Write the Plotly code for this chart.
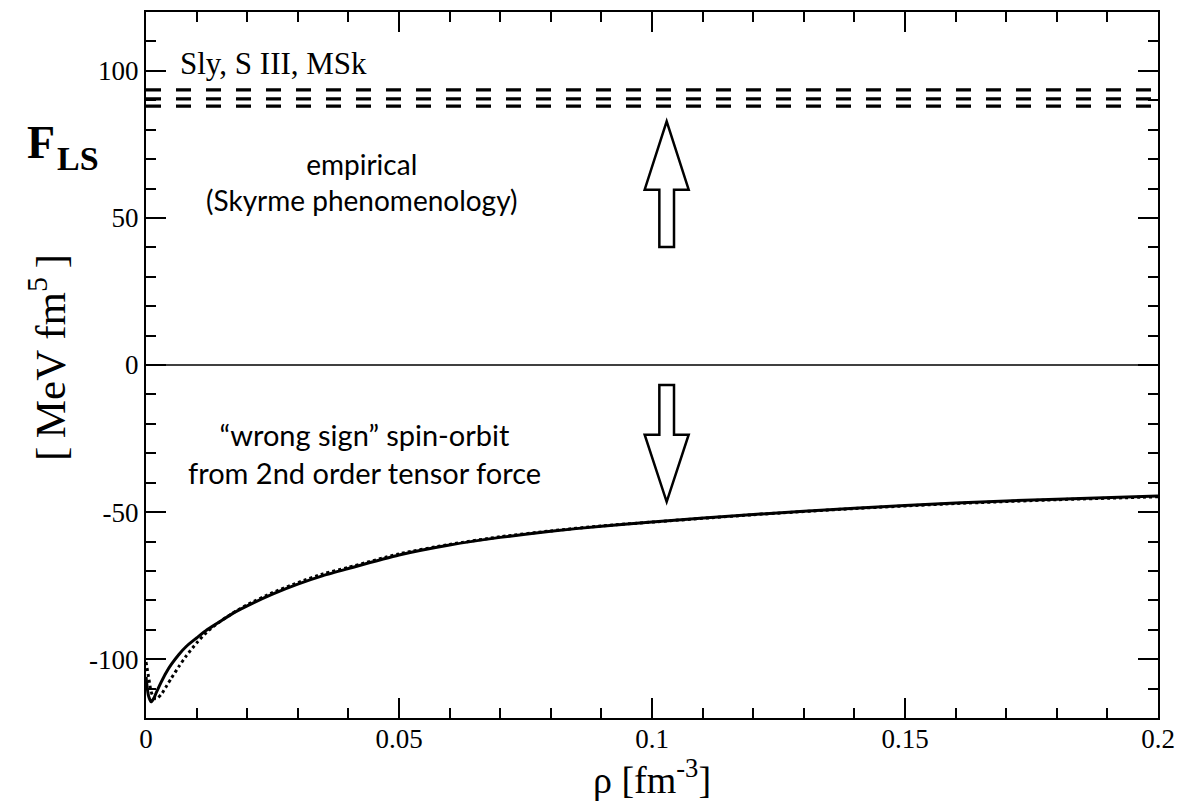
import plotly.graph_objects as go

# ---------------- data ----------------
rho = [0, 0.0005, 0.001, 0.0015, 0.002, 0.003, 0.004, 0.005, 0.0065, 0.008,
       0.01, 0.012, 0.014, 0.017, 0.02, 0.025, 0.03, 0.035, 0.04, 0.05,
       0.06, 0.07, 0.08, 0.09, 0.1, 0.12, 0.14, 0.16, 0.18, 0.2]
f_ls_solid = [-106, -112.5, -114.5, -113.5, -111.5, -107.8, -104.5, -101.8, -98.4, -95.6,
              -92.8, -90.1, -87.9, -84.6, -81.9, -77.9, -74.5, -71.6, -69.2, -64.6,
              -61.2, -58.6, -56.5, -54.8, -53.4, -50.8, -48.7, -46.9, -45.6, -44.5]
f_ls_dotted = [-101, -106, -111, -113, -113.5, -112, -109.3, -106.5, -102.5, -98.8,
               -94.5, -90.8, -88.0, -84.5, -81.5, -77.4, -74.0, -71.0, -68.8, -64.2,
               -61.0, -58.4, -56.4, -54.7, -53.4, -50.9, -48.8, -47.1, -45.8, -44.8]

skyrme_names = ["Sly", "S III", "MSk"]
skyrme_values = [93.5, 90.5, 88.0]
rho_range = [0, 0.2]

x_tick_vals = [0, 0.05, 0.1, 0.15, 0.2]
x_tick_text = ["0", "0.05", "0.1", "0.15", "0.2"]
y_tick_vals = [-100, -50, 0, 50, 100]
y_tick_text = ["-100", "-50", "0", "50", "100"]

# arrow geometry (x centre, half head width, half shaft width, tail, head base, tip)
arrow_x = 0.1029
arrow_head_hw = 0.00435
arrow_shaft_hw = 0.00145
up_arrow = [40.1, 59.6, 82.8]
down_arrow = [-6.8, -23.7, -46.5]

SERIF = "Liberation Serif"
SANS = "Lato"

fig = go.Figure()

for v in skyrme_values:
    fig.add_trace(go.Scatter(x=rho_range, y=[v, v], mode="lines",
                             line=dict(color="black", width=3.2, dash="15px,15px"),
                             showlegend=False, hoverinfo="skip"))

fig.add_trace(go.Scatter(x=rho_range, y=[0, 0], mode="lines",
                         line=dict(color="black", width=1.5),
                         showlegend=False, hoverinfo="skip"))

fig.add_trace(go.Scatter(x=rho, y=f_ls_dotted, mode="lines",
                         line=dict(color="black", width=3, dash="dot", shape="spline", smoothing=0.6),
                         showlegend=False))
fig.add_trace(go.Scatter(x=rho, y=f_ls_solid, mode="lines",
                         line=dict(color="black", width=3, shape="spline", smoothing=0.6),
                         showlegend=False))


def arrow_path(xc, hw, sw, tail, base, tip):
    pts = [(xc - sw, tail), (xc - sw, base), (xc - hw, base), (xc, tip),
           (xc + hw, base), (xc + sw, base), (xc + sw, tail)]
    return "M " + " L ".join(f"{px},{py}" for px, py in pts) + " Z"


for a in (up_arrow, down_arrow):
    fig.add_shape(type="path", xref="x", yref="y",
                  path=arrow_path(arrow_x, arrow_head_hw, arrow_shaft_hw, *a),
                  line=dict(color="black", width=2.5), fillcolor="white")

fig.add_annotation(x=0.0063, y=102.5, xref="x", yref="y", xanchor="left", yanchor="middle",
                   text=", ".join(skyrme_names), showarrow=False,
                   font=dict(family=SERIF, size=31, color="black"))
fig.add_annotation(x=0.0425, y=62.2, xref="x", yref="y", xanchor="center", yanchor="middle",
                   text="empirical<br>(Skyrme phenomenology)", showarrow=False,
                   font=dict(family=SANS, size=28, color="black"))
fig.add_annotation(x=0.0432, y=-30, xref="x", yref="y", xanchor="center", yanchor="middle",
                   text="“wrong sign” spin-orbit<br>from 2nd order tensor force", showarrow=False,
                   font=dict(family=SANS, size=29, color="black"))
fig.add_annotation(x=-0.088, y=0.815, xref="paper", yref="paper", xanchor="right", yanchor="middle",
                   text="<b>F</b>", showarrow=False,
                   font=dict(family=SERIF, size=46, color="black"))
fig.add_annotation(x=-0.090, y=0.792, xref="paper", yref="paper", xanchor="left", yanchor="middle",
                   text="<b>LS</b>", showarrow=False,
                   font=dict(family=SERIF, size=34, color="black"))
fig.add_annotation(x=-0.098, y=0.511, xref="paper", yref="paper", xanchor="center", yanchor="middle",
                   text="[\u2009MeV fm<sup>5</sup>\u2009]", textangle=-90, showarrow=False,
                   font=dict(family=SERIF, size=43, color="black"))

axis_common = dict(showline=True, linecolor="black", linewidth=2, mirror="ticks",
                   ticks="inside", ticklen=20, tickwidth=2, tickcolor="black",
                   showgrid=False, zeroline=False,
                   tickfont=dict(family=SERIF, size=27, color="black"))

fig.update_xaxes(range=rho_range, tickvals=x_tick_vals, ticktext=x_tick_text,
                 ticklabelstandoff=-4,
                 minor=dict(ticks="inside", ticklen=10, tickwidth=2, tickcolor="black", dtick=0.01, showgrid=False),
                 title=dict(text="ρ [fm<sup>-3</sup>]", font=dict(family=SERIF, size=38, color="black"), standoff=8),
                 **axis_common)
fig.update_yaxes(range=[-120, 120], tickvals=y_tick_vals, ticktext=y_tick_text,
                 minor=dict(ticks="inside", ticklen=10, tickwidth=2, tickcolor="black", dtick=10, tick0=0, showgrid=False),
                 **axis_common)

# the page adds an 8px body margin, so the figure is sized to fit the window
fig.update_layout(width=1171, height=793,
                  margin=dict(l=138, r=21, t=2, b=83),
                  plot_bgcolor="white", paper_bgcolor="white",
                  showlegend=False)

fig.write_html("out.html")
